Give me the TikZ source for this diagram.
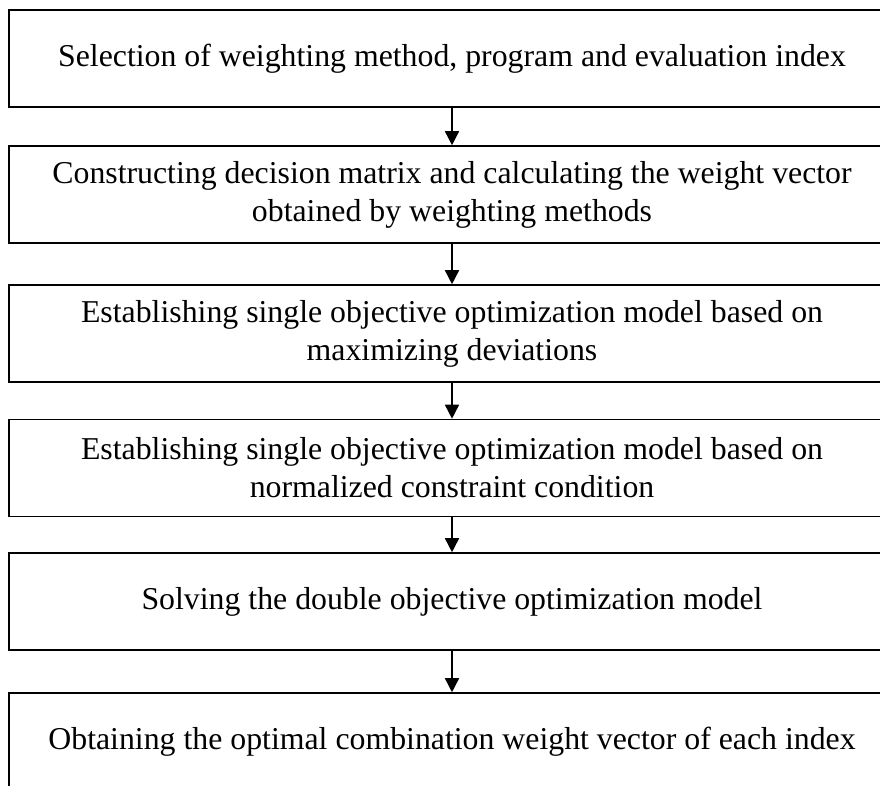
\documentclass[tikz,border=0pt]{standalone}
\usepackage{fontspec}
\setmainfont{Liberation Serif}
\usetikzlibrary{arrows.meta}
\tikzset{
  stepbox/.style={draw, line width=1.6pt, minimum width=886pt, minimum height=97pt,
    inner sep=0pt, align=center, font=\fontsize{31.8}{38}\selectfont},
  flow/.style={line width=1.6pt, -{Triangle[length=14pt,width=14pt]}}
}
\begin{document}
\begin{tikzpicture}[x=1pt,y=-1pt]
  \clip (0,0) rectangle (880,785);
  \useasboundingbox (0,0) rectangle (880,785);
  \node[stepbox] (s1) at (452,58.5) {Selection of weighting method, program and evaluation index};
  \node[stepbox] (s2) at (452,194.5) {Constructing decision matrix and calculating the weight vector\\obtained by weighting methods};
  \node[stepbox] (s3) at (452,333.5) {Establishing single objective optimization model based on\\maximizing deviations};
  \node[stepbox] (s4) at (452,468) {Establishing single objective optimization model based on\\normalized constraint condition};
  \node[stepbox] (s5) at (452,601.5) {Solving the double objective optimization model};
  \node[stepbox] (s6) at (452,741.5) {Obtaining the optimal combination weight vector of each index};
  \draw[flow] (s1) -- (s2);
  \draw[flow] (s2) -- (s3);
  \draw[flow] (s3) -- (s4);
  \draw[flow] (s4) -- (s5);
  \draw[flow] (s5) -- (s6);
\end{tikzpicture}
\end{document}
